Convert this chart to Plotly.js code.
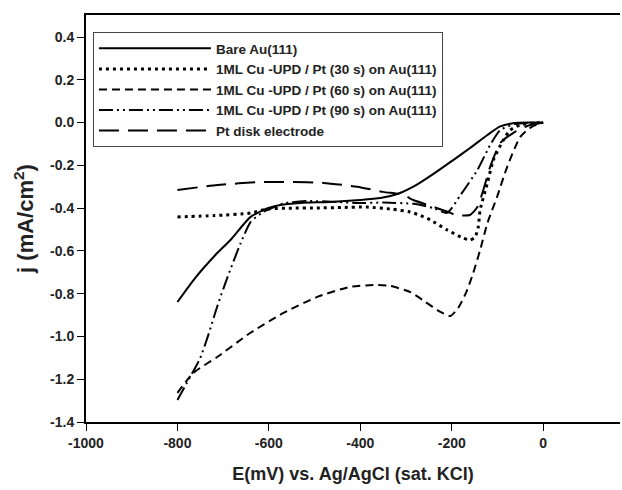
<!DOCTYPE html>
<html>
<head>
<meta charset="utf-8">
<script src="https://cdn.plot.ly/plotly-3.0.1.min.js"></script>
<style>html,body{margin:0;padding:0;background:#fff;}#chart{width:622px;height:490px;}</style>
</head>
<body>
<div id="chart"></div>
<script>
// Series names
const seriesNames = [
  "Bare Au(111)",
  "1ML Cu -UPD / Pt (30 s) on Au(111)",
  "1ML Cu -UPD / Pt (60 s) on Au(111)",
  "1ML Cu -UPD / Pt (90 s) on Au(111)",
  "Pt disk electrode"
];

// Bare Au(111)
const bareX = [-800,-761,-717,-684,-640,-601,-575,-531,-466,-400,-356,-319,-280,-240,-200,-160,-122,-94,-66,-30,0];
const bareY = [-0.839,-0.726,-0.619,-0.549,-0.441,-0.399,-0.385,-0.376,-0.371,-0.362,-0.353,-0.334,-0.295,-0.240,-0.180,-0.119,-0.058,-0.018,-0.003,0,0];

// 30 s
const p30X = [-800,-720,-640,-603,-550,-494,-440,-385,-330,-291,-268,-247,-210,-175,-160,-149,-142,-138,-122,-109,-87,-72,-50,-25,0];
const p30Y = [-0.441,-0.435,-0.423,-0.404,-0.400,-0.399,-0.397,-0.395,-0.405,-0.418,-0.435,-0.455,-0.502,-0.540,-0.549,-0.535,-0.488,-0.409,-0.282,-0.175,-0.081,-0.035,-0.011,-0.003,0];

// 60 s
const p60X = [-800,-765,-713,-641,-568,-494,-422,-363,-334,-291,-258,-225,-203,-186,-168,-153,-138,-122,-101,-79,-50,-25,0];
const p60Y = [-1.264,-1.170,-1.096,-0.984,-0.890,-0.815,-0.768,-0.759,-0.764,-0.792,-0.838,-0.885,-0.904,-0.867,-0.792,-0.703,-0.596,-0.470,-0.348,-0.208,-0.067,-0.020,0];

// 90 s
const p90X = [-800,-775,-750,-732,-713,-690,-662,-640,-612,-568,-516,-450,-407,-350,-284,-240,-210,-181,-144,-116,-94,-61,0];
const p90Y = [-1.297,-1.200,-1.100,-0.990,-0.860,-0.720,-0.565,-0.465,-0.418,-0.378,-0.367,-0.371,-0.376,-0.374,-0.380,-0.400,-0.422,-0.339,-0.222,-0.105,-0.035,-0.007,0];

// Pt disk electrode
const ptX = [-800,-712,-619,-553,-481,-407,-350,-306,-284,-232,-203,-192,-160,-144,-131,-116,-94,-66,-35,0];
const ptY = [-0.315,-0.292,-0.278,-0.278,-0.282,-0.300,-0.324,-0.338,-0.362,-0.400,-0.422,-0.432,-0.432,-0.395,-0.315,-0.207,-0.096,-0.049,-0.016,0];

// Tick values
const xTicks = [-1000,-800,-600,-400,-200,0];
const yTicks = [-1.4,-1.2,-1.0,-0.8,-0.6,-0.4,-0.2,0.0,0.2,0.4];
const yTickText = yTicks.map(v => v.toFixed(1));

const styles = [
  {width:2, dash:"solid"},
  {width:3, dash:"3px,4px"},
  {width:2, dash:"8px,5px"},
  {width:2, dash:"14px,4px,2px,4px,2px,4px"},
  {width:2, dash:"20px,9px"}
];
const xs = [bareX,p30X,p60X,p90X,ptX];
const ys = [bareY,p30Y,p60Y,p90Y,ptY];

const traces = xs.map((x,i) => ({
  x: x, y: ys[i], name: seriesNames[i], type: "scatter", mode: "lines",
  line: {color:"#000", width: styles[i].width, dash: styles[i].dash, shape:"spline", smoothing:0.6}
}));

const font = "Liberation Sans, Arial, sans-serif";
const layout = {
  width: 622, height: 490,
  margin: {l:86, r:2, t:15, b:68},
  paper_bgcolor:"#fff", plot_bgcolor:"#fff",
  font: {family: font, color:"#222"},
  showlegend: true,
  legend: {
    x: 0.013, y: 0.958, xanchor:"left", yanchor:"top",
    bordercolor:"#444", borderwidth:1, bgcolor:"#fff",
    font:{family:font, size:13.5, color:"#222", weight:"bold"},
    itemwidth: 112
  },
  xaxis: {
    range: [-1000, 168], tickmode:"array", tickvals: xTicks, ticktext: xTicks.map(String),
    showline:true, linecolor:"#000", linewidth:2, mirror:true,
    ticks:"outside", ticklen:7, tickwidth:1, tickcolor:"#000",
    showgrid:false, zeroline:false,
    tickfont:{family:font, size:14, color:"#222", weight:"bold"},
    title:{text:"E(mV) vs. Ag/AgCl (sat. KCl)", font:{family:font, size:18, color:"#222", weight:"bold"}, standoff: 18}
  },
  yaxis: {
    range: [-1.4, 0.503], tickmode:"array", tickvals: yTicks, ticktext: yTickText,
    showline:true, linecolor:"#000", linewidth:2,
    ticks:"outside", ticklen:7, tickwidth:1, tickcolor:"#000",
    showgrid:false, zeroline:false,
    tickfont:{family:font, size:14, color:"#222", weight:"bold"},
    title:{text:"j (mA/cm<sup>2</sup>)", font:{family:font, size:22, color:"#222", weight:"bold"}, standoff: 10}
  }
};

Plotly.newPlot("chart", traces, layout, {displayModeBar:false, staticPlot:true});
</script>
</body>
</html>
